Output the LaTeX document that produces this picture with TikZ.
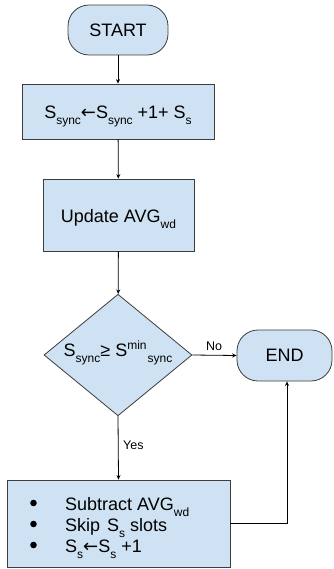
\documentclass[tikz,border=0pt]{standalone}
\usepackage{fontspec}
\setmainfont{Liberation Sans}
\newfontfamily\symfont{DejaVu Sans}
\usetikzlibrary{shapes.geometric,arrows.meta}

% small lowered / raised text for indices
\newcommand\lowsub[1]{\raisebox{-6pt}{\fontsize{12}{12}\selectfont #1}}
\newcommand\hisup[1]{\raisebox{7pt}{\fontsize{12}{12}\selectfont #1}}
\newcommand\larr{{\symfont ←}}
\newcommand\bul{\makebox[35pt][l]{\tikz[baseline=-7pt]\fill (3.5pt,0pt) circle (3.3pt);}}

\definecolor{boxfill}{HTML}{CFE2F3}
\definecolor{boxline}{HTML}{3C3C3C}

\tikzset{
  base/.style={draw=boxline, fill=boxfill, line width=0.8pt, inner sep=0pt,
    font=\fontsize{18}{21}\selectfont},
  terminal/.style={base, rectangle, rounded corners=21pt},
  stepbox/.style={base, rectangle, text height=15pt, text depth=0pt},
  decision/.style={base, diamond, text height=8pt, text depth=5pt},
  lineitem/.style={anchor=base west, inner sep=0pt, font=\fontsize{18}{21}\selectfont},
  edgelabel/.style={inner sep=0pt, font=\fontsize{12.5}{14}\selectfont},
  flow/.style={draw=black, line width=0.8pt, -{Stealth[length=4.5pt,width=4pt]}}
}

\begin{document}
\begin{tikzpicture}[x=1pt, y=-1pt]
  \useasboundingbox (0,0) rectangle (333,569);

  % start and end terminals
  \node[terminal, minimum width=100pt, minimum height=50pt] (start) at (118,30) {START};
  \node[terminal, minimum width=95pt, minimum height=51pt] (endn) at (284.5,355.5) {END};

  % process steps
  \node[stepbox, minimum width=192pt, minimum height=55pt] (box1) at (118,111.5)
    {S\lowsub{sync}\larr S\lowsub{sync} +1+ S\lowsub{s}};
  \node[stepbox, minimum width=151pt, minimum height=72pt] (box2) at (118.5,215)
    {Update AVG\lowsub{wd}};

  % decision
  \node[decision, minimum width=148pt, minimum height=114pt] (dec) at (118,355)
    {S\lowsub{sync}≥ S\hisup{min}\lowsub{\hspace{1pt}sync}};

  % final step with bullet list
  \node[base, rectangle, minimum width=223pt, minimum height=87pt] (box3) at (118.5,523.5) {};
  \node[lineitem] (l1) at (30,510) {\bul Subtract AVG\lowsub{wd}};
  \node[lineitem] (l2) at (30,531) {\bul Skip\hspace{7pt}S\lowsub{s} slots};
  \node[lineitem] (l3) at (30,552) {\bul S\lowsub{s}\larr S\lowsub{s} +1};

  % connectors
  \draw[flow] (start) -- (box1);
  \draw[flow] (box1) -- (box2);
  \draw[flow] (box2) -- (dec);
  \draw[flow] (dec.south) -- (box3.north);
  \draw[flow] (dec.east) -- (endn.west);
  \coordinate (endin) at ([xshift=2.5pt]endn.south);
  \draw[flow] (box3.east) -| (endin);

  % branch labels
  \node[edgelabel, anchor=base west] (yes) at (123,449) {Yes};
  \node[edgelabel, anchor=base west] (no) at (206,350.5) {No};
\end{tikzpicture}
\end{document}
